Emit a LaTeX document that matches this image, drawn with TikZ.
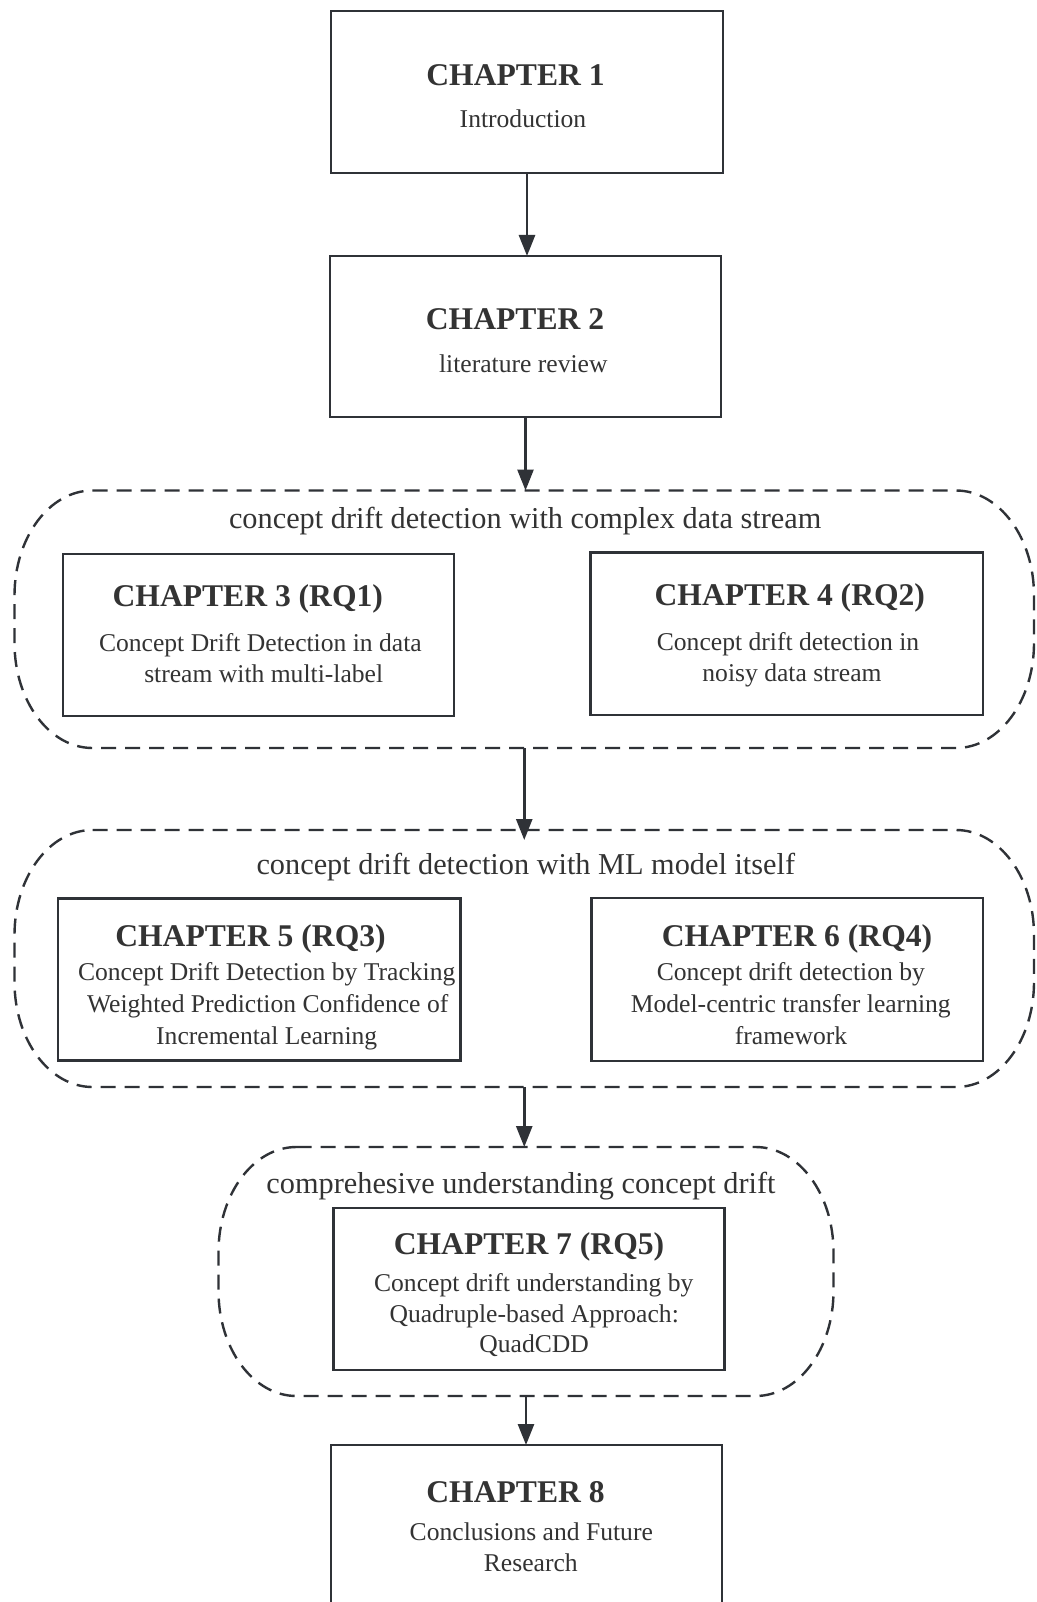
\documentclass[tikz,border=0pt]{standalone}
\usepackage{fontspec}
\setmainfont{Liberation Serif}
\usetikzlibrary{arrows.meta}
\definecolor{ink}{HTML}{2F3237}
\definecolor{txt}{HTML}{333333}
\tikzset{
  x=1pt, y=1pt,
  chapbox/.style={draw=ink, line width=2.6pt, rectangle, inner sep=0pt, outer sep=0pt},
  grp/.style={rectangle, inner sep=0pt, outer sep=0pt, draw=none},
  grpline/.style={draw=ink, line width=2.4pt, dash pattern=on 15pt off 9pt},
  ttl/.style={anchor=base, inner sep=0pt, text=txt, font=\fontsize{31.6}{36}\selectfont\bfseries},
  bdy/.style={anchor=base, inner sep=0pt, text=txt, font=\fontsize{25.6}{30}\selectfont},
  gttl/.style={anchor=base, inner sep=0pt, text=txt, font=\fontsize{30.3}{35}\selectfont},
  arr/.style={draw=ink, line width=2.7pt, -{Triangle[length=21pt,width=16pt]}}
}
\newcommand\grpoutline[1]{%
  \draw[grpline] ([xshift=78pt]#1.north west) -- ([xshift=-78pt]#1.north east)
    arc[start angle=90,end angle=0,x radius=78pt,y radius=105pt]
    -- ([yshift=105pt]#1.south east)
    arc[start angle=0,end angle=-90,x radius=78pt,y radius=105pt]
    -- ([xshift=78pt]#1.south west)
    arc[start angle=270,end angle=180,x radius=78pt,y radius=105pt]
    -- ([yshift=-105pt]#1.north west)
    arc[start angle=180,end angle=90,x radius=78pt,y radius=105pt] -- cycle;}
\begin{document}
\begin{tikzpicture}
\clip (0,0) rectangle (1036,-1602);
\fill[white] (0,0) rectangle (1036,-1602);

% groups
\node[grp, minimum width=1019.5pt, minimum height=257.5pt] (g1) at (524.25,-619.25) {};
\node[grp, minimum width=1019.5pt, minimum height=257pt] (g2) at (524.25,-958.5) {};
\node[grp, minimum width=615pt, minimum height=249pt] (g3) at (526,-1271.5) {};
\grpoutline{g1}
\grpoutline{g2}
\grpoutline{g3}

% chapter boxes
\node[chapbox, minimum width=392pt, minimum height=162pt] (b1) at (527,-92) {};
\node[chapbox, minimum width=391pt, minimum height=161pt] (b2) at (525.5,-336.5) {};
\node[chapbox, minimum width=391pt, minimum height=162pt] (b3) at (258.5,-635) {};
\node[chapbox, minimum width=392.5pt, minimum height=162.5pt] (b4) at (786.7,-633.7) {};
\node[chapbox, minimum width=402.5pt, minimum height=162pt] (b5) at (259.3,-979.5) {};
\node[chapbox, minimum width=391.5pt, minimum height=163pt] (b6) at (787.3,-979.5) {};
\node[chapbox, minimum width=391pt, minimum height=162pt] (b7) at (529,-1289) {};
\node[chapbox, minimum width=391pt, minimum height=162pt] (b8) at (526.5,-1526) {};

% texts
\node[ttl] (t1) at (515.5,-86) {CHAPTER 1};
\node[bdy] (t1a) at (523,-127.3) {Introduction};

\node[ttl] (t2) at (515,-330) {CHAPTER 2};
\node[bdy] (t2a) at (523.3,-372.7) {literature review};

\node[gttl] (g1t) at (525.2,-528.3) {concept drift detection with complex data stream};

\node[ttl] (t3) at (247.8,-606) {CHAPTER 3 (RQ1)};
\node[bdy] (t3a) at (260.4,-651.7) {Concept Drift Detection in data};
\node[bdy] (t3b) at (263.7,-682.7) {stream with multi-label};

\node[ttl] (t4) at (789.8,-605.5) {CHAPTER 4 (RQ2)};
\node[bdy] (t4a) at (788,-650.7) {Concept drift detection in};
\node[bdy] (t4b) at (792,-681.7) {noisy data stream};

\node[gttl] (g2t) at (525.8,-874) {concept drift detection with ML model itself};

\node[ttl] (t5) at (250.5,-946) {CHAPTER 5 (RQ3)};
\node[bdy] (t5a) at (266.7,-980.7) {Concept Drift Detection by Tracking};
\node[bdy] (t5b) at (267.7,-1012.7) {Weighted Prediction Confidence of};
\node[bdy] (t5c) at (266.7,-1044) {Incremental Learning};

\node[ttl] (t6) at (797,-946) {CHAPTER 6 (RQ4)};
\node[bdy] (t6a) at (790.8,-980.7) {Concept drift detection by};
\node[bdy] (t6b) at (790.8,-1012.7) {Model-centric transfer learning};
\node[bdy] (t6c) at (791,-1044) {framework};

\node[gttl] (g3t) at (521,-1193.3) {comprehesive understanding concept drift};

\node[ttl] (t7) at (529,-1254) {CHAPTER 7 (RQ5)};
\node[bdy] (t7a) at (533.7,-1291) {Concept drift understanding by};
\node[bdy] (t7b) at (534.2,-1322.7) {Quadruple-based Approach:};
\node[bdy] (t7c) at (534.2,-1352.7) {QuadCDD};

\node[ttl] (t8) at (515.5,-1502.7) {CHAPTER 8};
\node[bdy] (t8a) at (531.3,-1540) {Conclusions and Future};
\node[bdy] (t8b) at (530.8,-1571.7) {Research};

% connectors
\draw[arr] (b1.south) -- (b1.south |- b2.north);
\draw[arr] (b2.south) -- (b2.south |- g1.north);
\draw[arr, shorten >=-10pt] (g1.south) -- (g2.north);
\draw[arr] (g2.south) -- (g2.south |- g3.north);
\draw[arr] (g3.south) -- (g3.south |- b8.north);
\end{tikzpicture}
\end{document}
